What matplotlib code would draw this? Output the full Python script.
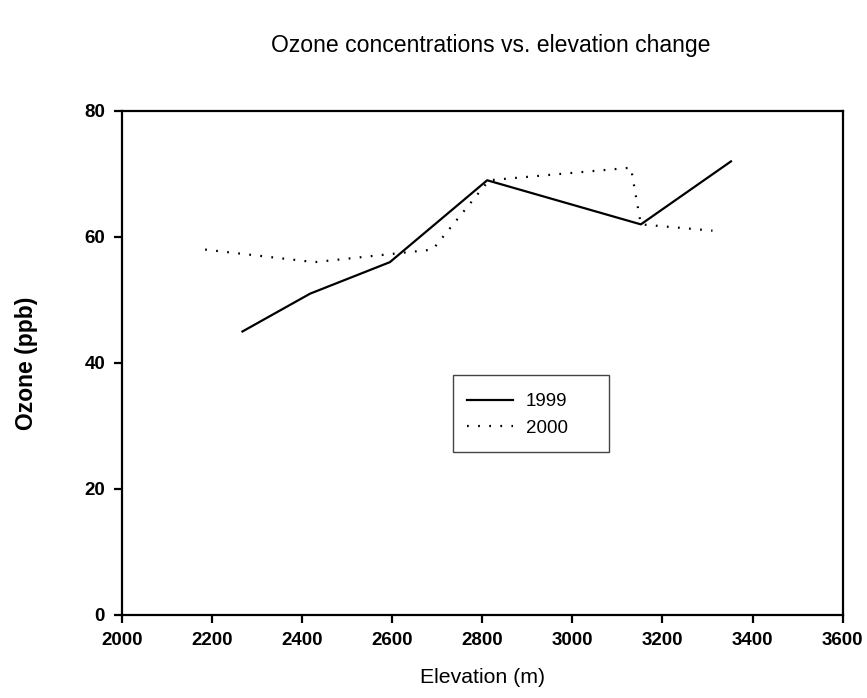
import numpy as np
import matplotlib
matplotlib.use("Agg")
import matplotlib.pyplot as plt
from matplotlib.patches import Rectangle

plt.rcParams['font.family'] = ['Liberation Sans', 'DejaVu Sans']

# data
elev_1999 = [2268, 2418, 2595, 2811, 3152, 3352]
ozone_1999 = [45, 51, 56, 69, 62, 72]
elev_2000 = [2185, 2428, 2690, 2815, 3130, 3152, 3311]
ozone_2000 = [58, 56, 58, 69, 71, 62, 61]
xticks = np.arange(2000, 3601, 200)
yticks = np.arange(0, 81, 20)

fig = plt.figure(figsize=(8.67, 6.98), dpi=100)
ax = fig.add_axes([0.1404, 0.119, 0.8316, 0.722])

ax.plot(elev_1999, ozone_1999, color='black', lw=1.6, label='1999')
ax.plot(elev_2000, ozone_2000, color='black', lw=1.6,
        linestyle=(0, (0.8, 4.2)), label='2000')

ax.set_xlim(2000, 3600)
ax.set_ylim(0, 80)
ax.set_xticks(xticks)
ax.set_yticks(yticks)
for sp in ax.spines.values():
    sp.set_linewidth(1.6)
ax.tick_params(direction='out', length=6, width=1.6, labelsize=13.5, pad=6)
for lab in ax.get_xticklabels() + ax.get_yticklabels():
    lab.set_fontweight('bold')

ax.set_xlabel('Elevation (m)', fontsize=15.3, labelpad=14)
ax.set_ylabel('Ozone (ppb)', fontsize=16.5, fontweight='bold', labelpad=33)
fig.text(0.566, 0.935, 'Ozone concentrations vs. elevation change',
         ha='center', va='center', fontsize=16.6)

# legend box drawn separately (wider than the content, as in the original)
ax.add_patch(Rectangle((0.4595, 0.3234), 0.2164, 0.1528, transform=ax.transAxes,
                       facecolor='white', edgecolor='#444444', lw=1.0, zorder=4))
leg = ax.legend(loc='center left', bbox_to_anchor=(0.4789, 0.397), fontsize=13.5,
                frameon=False, handlelength=2.45, borderpad=0, handletextpad=0.7,
                borderaxespad=0, labelspacing=0.5)
leg.set_zorder(5)

fig.savefig('out.png', dpi=100)
